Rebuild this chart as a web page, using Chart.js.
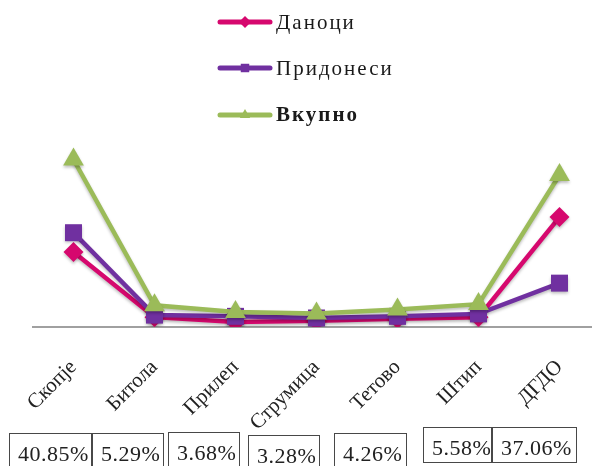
<!DOCTYPE html>
<html lang="mk">
<head>
<meta charset="UTF-8">
<title>Даноци и придонеси по региони</title>
<script src="https://cdn.jsdelivr.net/npm/chart.js"></script>
<style>
    body {
        margin: 0;
        width: 592px;
        height: 466px;
        overflow: hidden;
        position: relative;
        background: #fff;
        font-family: "Liberation Serif", serif;
    }
    #chart { position: absolute; left: 0; top: 0; }
    .share {
        position: absolute;
        box-sizing: border-box;
        border: 1.5px solid #484848;
        font-size: 22px;
        line-height: 22px;
        padding: 9px 0 0 8px;
        letter-spacing: 0.5px;
        color: #222;
        white-space: nowrap;
    }
</style>
</head>
<body>
<canvas id="chart" width="612" height="466"></canvas>
<div id="shares"></div>
<script>
    // data (same units as the percentage shares)
    const regions = ['Скопје', 'Битола', 'Прилеп', 'Струмица', 'Тетово', 'Штип', 'ДГДО'];
    const danoci = [18.3, 2.4, 1.2, 1.5, 2.0, 2.4, 26.8];
    const pridonesi = [23.0, 2.9, 2.6, 2.2, 2.6, 3.2, 10.7];
    const vkupno = [40.85, 5.29, 3.68, 3.28, 4.26, 5.58, 37.06];
    const shares = ['40.85%', '5.29%', '3.68%', '3.28%', '4.26%', '5.58%', '37.06%'];

    // layout of the share boxes under the axis: [left, top, width, height]
    const boxPos = [
        [9, 433, 83, 40], [92, 433, 72, 40], [168, 432, 72, 40], [248, 435, 72, 40],
        [334, 433, 73, 40], [423, 427, 69, 36], [492, 427, 85, 36]
    ];

    const pink = '#d6086e';
    const purple = '#7030a0';
    const green = '#9bbb59';

    const shareBox = document.getElementById('shares');
    shares.forEach((s, i) => {
        const d = document.createElement('div');
        d.className = 'share';
        const p = boxPos[i];
        d.style.left = p[0] + 'px';
        d.style.top = p[1] + 'px';
        d.style.width = p[2] + 'px';
        d.style.height = p[3] + 'px';
        d.textContent = s;
        shareBox.appendChild(d);
    });

    const softShadow = {
        id: 'softShadow',
        beforeDatasetsDraw(chart) {
            const ctx = chart.ctx;
            ctx.save();
            ctx.shadowColor = 'rgba(0,0,0,0.25)';
            ctx.shadowBlur = 3;
            ctx.shadowOffsetY = 2;
        },
        afterDatasetsDraw(chart) {
            chart.ctx.restore();
        }
    };

    // vertical legend above the plot, line + marker like the original
    const legendRows = [22, 68, 115];
    const inlineLegend = {
        id: 'inlineLegend',
        afterDraw(chart) {
            const ctx = chart.ctx;
            chart.data.datasets.forEach((ds, i) => {
                const y = legendRows[i];
                ctx.save();
                ctx.strokeStyle = ds.borderColor;
                ctx.fillStyle = ds.borderColor;
                ctx.lineWidth = 5;
                ctx.lineCap = 'round';
                ctx.beginPath();
                ctx.moveTo(220, y);
                ctx.lineTo(270, y);
                ctx.stroke();
                Chart.helpers.drawPoint(ctx, { pointStyle: ds.pointStyle, radius: 6, borderWidth: 0, rotation: 0 }, 245, y);
                ctx.fillStyle = '#1a1a1a';
                ctx.font = (i === 2 ? 'bold ' : '') + '21px "Liberation Serif"';
                ctx.letterSpacing = '2px';
                ctx.textBaseline = 'middle';
                ctx.fillText(ds.label, 276, y + 1);
                ctx.restore();
            });
        }
    };

    new Chart(document.getElementById('chart'), {
        type: 'line',
        data: {
            labels: regions,
            datasets: [
                { label: 'Даноци', data: danoci, borderColor: pink, backgroundColor: pink,
                  pointStyle: 'rectRot', pointRadius: 10, order: 2 },
                { label: 'Придонеси', data: pridonesi, borderColor: purple, backgroundColor: purple,
                  pointStyle: 'rect', pointRadius: 12, order: 1 },
                { label: 'Вкупно', data: vkupno, borderColor: green, backgroundColor: green,
                  pointStyle: 'triangle', pointRadius: 12, order: 0 }
            ]
        },
        options: {
            responsive: false,
            animation: false,
            layout: { padding: { left: 33, right: 0, top: 122, bottom: 0 } },
            elements: {
                line: { borderWidth: 4.5, tension: 0 },
                point: { borderWidth: 0 }
            },
            plugins: {
                legend: { display: false },
                tooltip: { enabled: false }
            },
            scales: {
                x: {
                    offset: true,
                    grid: { display: false, drawTicks: false },
                    border: { display: true, color: '#a0a0a0', width: 2 },
                    ticks: {
                        minRotation: 45,
                        maxRotation: 45,
                        autoSkip: false,
                        padding: 28,
                        color: '#222',
                        font: { family: '"Liberation Serif"', size: 21 }
                    },
                    afterFit(scale) { scale.height = 139; }
                },
                y: { display: false, min: 0, max: 50 }
            }
        },
        plugins: [softShadow, inlineLegend]
    });
</script>
</body>
</html>
